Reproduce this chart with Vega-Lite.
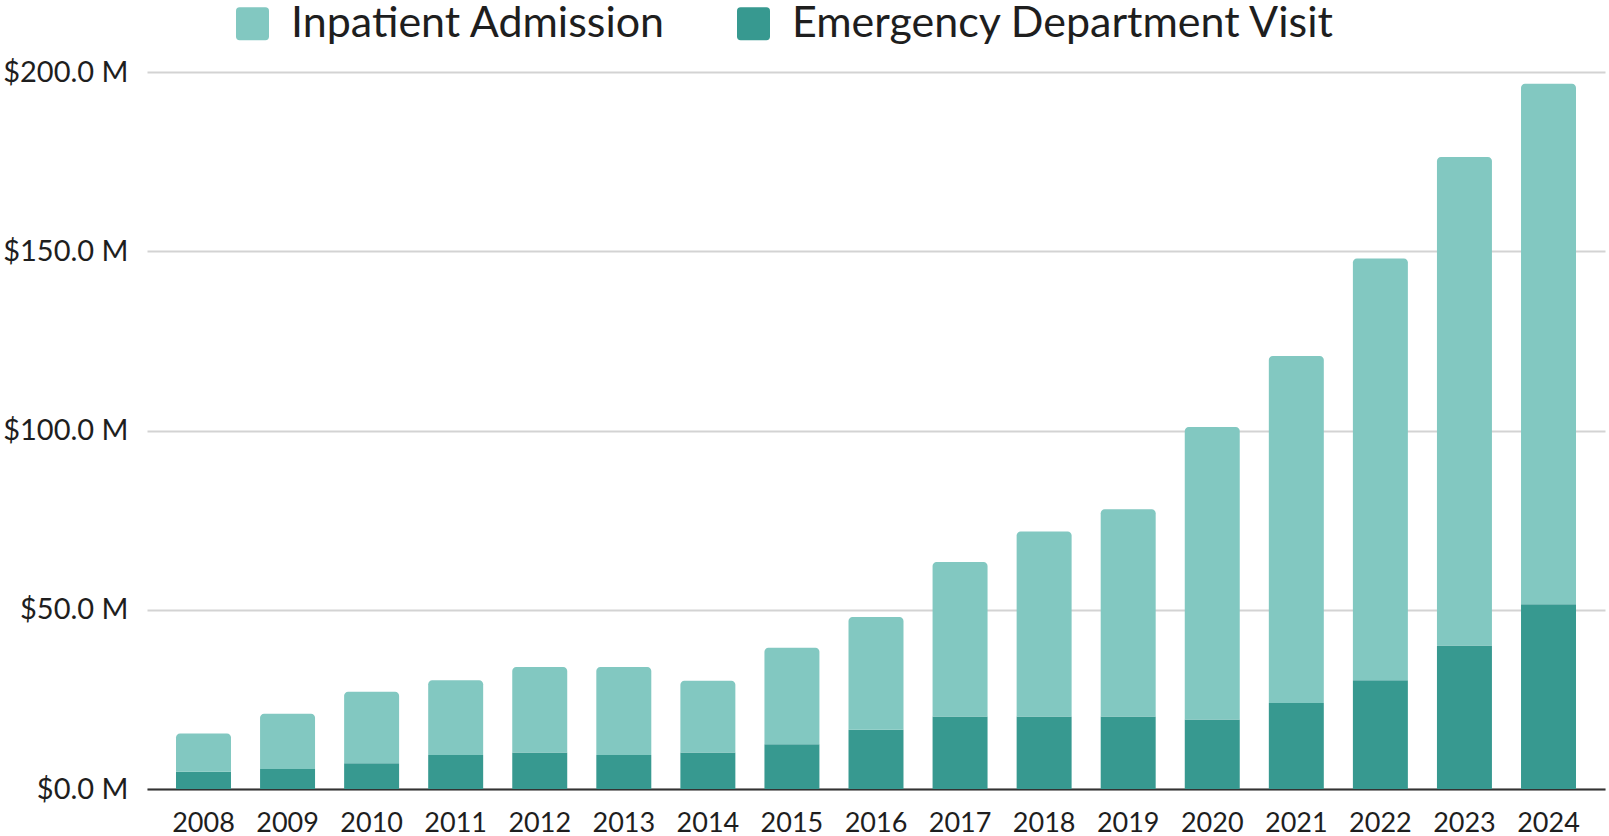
{
  "$schema": "https://vega.github.io/schema/vega-lite/v6.json",
  "width": 1458,
  "height": 717,
  "autosize": {"type": "none"},
  "padding": {"left": 147, "top": 72, "right": 4, "bottom": 47},
  "background": "white",
  "config": {
    "view": {"stroke": null},
    "font": "Lato",
    "axis": {"labelFont": "Lato", "labelColor": "#1e1e1e"},
    "legend": {"labelFont": "Lato", "labelColor": "#1e1e1e"}
  },
  "data": {
    "values": [
      {"year": "2008", "type": "Emergency Department Visit", "value": 4.8},
      {"year": "2008", "type": "Inpatient Admission", "value": 10.7},
      {"year": "2009", "type": "Emergency Department Visit", "value": 5.6},
      {"year": "2009", "type": "Inpatient Admission", "value": 15.4},
      {"year": "2010", "type": "Emergency Department Visit", "value": 7.2},
      {"year": "2010", "type": "Inpatient Admission", "value": 19.9},
      {"year": "2011", "type": "Emergency Department Visit", "value": 9.5},
      {"year": "2011", "type": "Inpatient Admission", "value": 20.8},
      {"year": "2012", "type": "Emergency Department Visit", "value": 10.2},
      {"year": "2012", "type": "Inpatient Admission", "value": 23.8},
      {"year": "2013", "type": "Emergency Department Visit", "value": 9.5},
      {"year": "2013", "type": "Inpatient Admission", "value": 24.5},
      {"year": "2014", "type": "Emergency Department Visit", "value": 10.2},
      {"year": "2014", "type": "Inpatient Admission", "value": 20.0},
      {"year": "2015", "type": "Emergency Department Visit", "value": 12.5},
      {"year": "2015", "type": "Inpatient Admission", "value": 26.9},
      {"year": "2016", "type": "Emergency Department Visit", "value": 16.5},
      {"year": "2016", "type": "Inpatient Admission", "value": 31.5},
      {"year": "2017", "type": "Emergency Department Visit", "value": 20.2},
      {"year": "2017", "type": "Inpatient Admission", "value": 43.1},
      {"year": "2018", "type": "Emergency Department Visit", "value": 20.2},
      {"year": "2018", "type": "Inpatient Admission", "value": 51.6},
      {"year": "2019", "type": "Emergency Department Visit", "value": 20.2},
      {"year": "2019", "type": "Inpatient Admission", "value": 57.8},
      {"year": "2020", "type": "Emergency Department Visit", "value": 19.4},
      {"year": "2020", "type": "Inpatient Admission", "value": 81.6},
      {"year": "2021", "type": "Emergency Department Visit", "value": 24.0},
      {"year": "2021", "type": "Inpatient Admission", "value": 96.8},
      {"year": "2022", "type": "Emergency Department Visit", "value": 30.3},
      {"year": "2022", "type": "Inpatient Admission", "value": 117.7},
      {"year": "2023", "type": "Emergency Department Visit", "value": 40.0},
      {"year": "2023", "type": "Inpatient Admission", "value": 136.3},
      {"year": "2024", "type": "Emergency Department Visit", "value": 51.5},
      {"year": "2024", "type": "Inpatient Admission", "value": 145.2}
    ]
  },
  "transform": [
    {"stack": "value", "groupby": ["year"], "sort": [{"field": "type", "order": "ascending"}], "as": ["v0", "v1"]}
  ],
  "encoding": {
    "x": {
      "field": "year",
      "type": "ordinal",
      "scale": {"paddingInner": 0.346, "paddingOuter": 0.345},
      "axis": {
        "title": null,
        "labelAngle": 0,
        "labelFontSize": 27,
        "labelPadding": 21,
        "ticks": false,
        "tickSize": 0,
        "domainColor": "#333333",
        "domainWidth": 2,
        "grid": false
      }
    },
    "y": {
      "field": "v1",
      "type": "quantitative",
      "scale": {"domain": [0, 200], "nice": false, "zero": true},
      "axis": {
        "title": null,
        "values": [0, 50, 100, 150, 200],
        "labelExpr": "'$' + format(datum.value, '.1f') + ' M'",
        "labelFontSize": 29,
        "labelPadding": 19,
        "ticks": false,
        "tickSize": 0,
        "domain": false,
        "gridColor": "#D3D3D3",
        "gridWidth": 2
      }
    },
    "y2": {"field": "v0"},
    "color": {
      "field": "type",
      "type": "nominal",
      "scale": {
        "domain": ["Inpatient Admission", "Emergency Department Visit"],
        "range": ["#82C8C1", "#379990"]
      },
      "legend": {
        "title": null,
        "orient": "none",
        "direction": "horizontal",
        "legendX": 84,
        "legendY": -70,
        "labelFontSize": 43,
        "labelLimit": 0,
        "labelOffset": 17,
        "columnPadding": 66,
        "symbolSize": 1089,
        "symbolType": "M-0.78,-1L0.78,-1Q1,-1 1,-0.78L1,0.78Q1,1 0.78,1L-0.78,1Q-1,1 -1,0.78L-1,-0.78Q-1,-1 -0.78,-1Z",
        "symbolStrokeWidth": 0,
        "symbolOpacity": 1
      }
    }
  },
  "layer": [
    {
      "transform": [{"filter": "datum.type === 'Emergency Department Visit'"}],
      "mark": {"type": "bar"}
    },
    {
      "transform": [{"filter": "datum.type === 'Inpatient Admission'"}],
      "mark": {"type": "bar", "cornerRadiusTopLeft": 4, "cornerRadiusTopRight": 4}
    }
  ]
}
